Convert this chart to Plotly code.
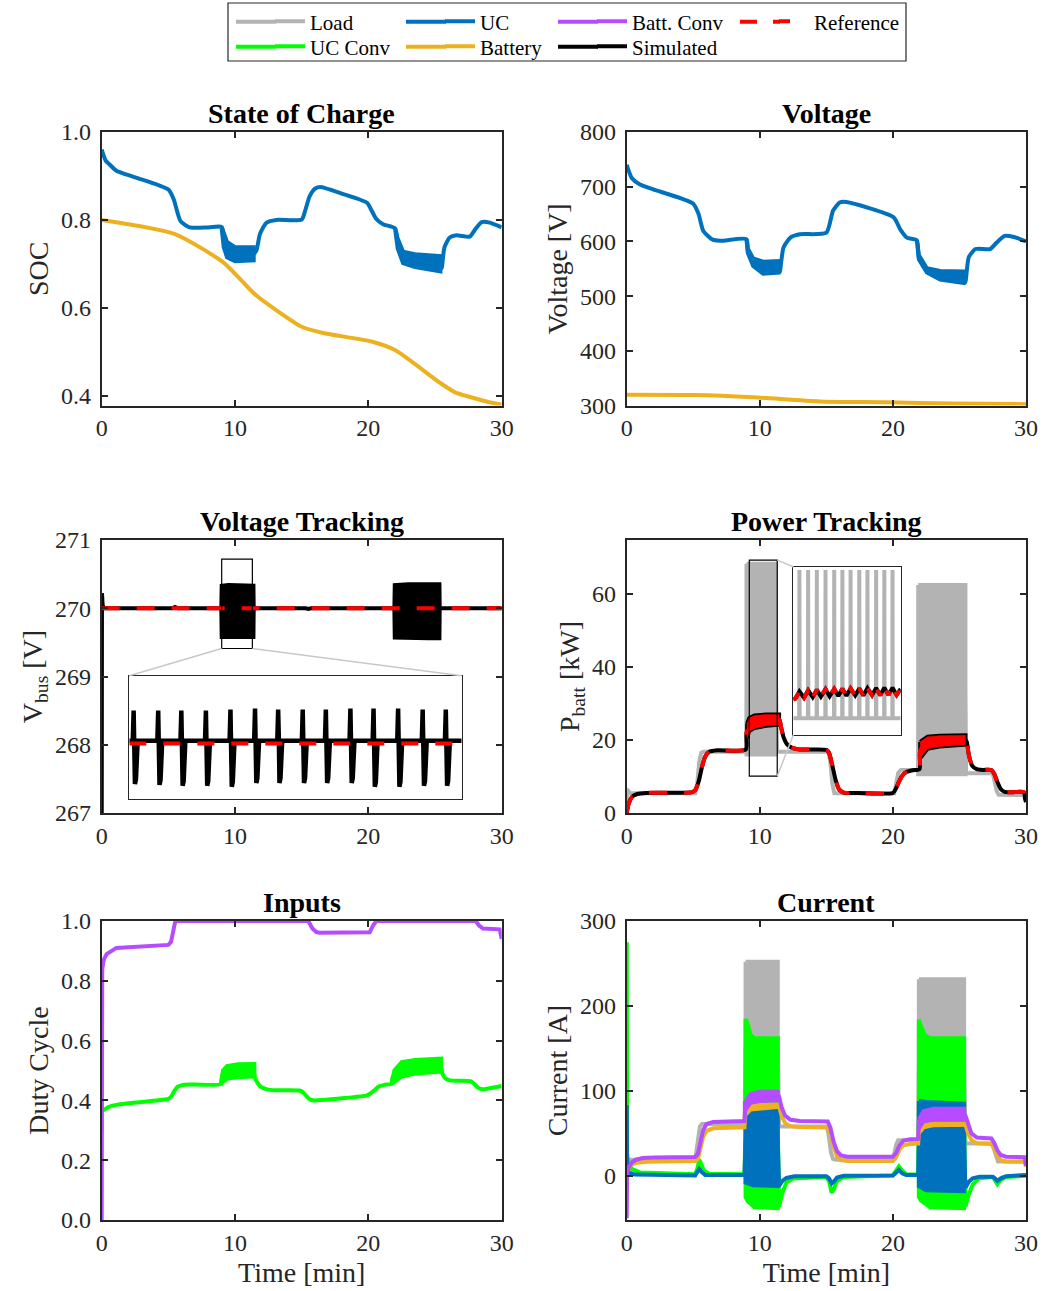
import plotly.graph_objects as go

W, H = 1042, 1291
FONT = "Liberation Serif"
AX = "#262626"
C_LOAD, C_UC, C_UCC = "#B3B3B3", "#0072BD", "#00FF00"
C_BAT, C_BATC, C_REF, C_SIM = "#EDB120", "#B54CFF", "#FF0000", "#000000"

# ---------------- State of Charge ----------------
soc_uc_t = [0, 0.3, 0.6, 1.1, 2.5, 5.0, 5.4, 5.9, 6.6, 8.0, 9.0, 9.15, 9.4, 10.0, 11.4, 11.6, 11.87, 12.37,
            13.1, 15.0, 15.25, 15.6, 16.0, 16.4, 18.0, 19.9, 20.2, 20.6, 21.1, 22.0, 22.2, 22.6, 23.5, 25.4,
            25.5, 25.7, 26.1, 26.6, 27.6, 28.0, 28.5, 29.1, 30]
soc_uc_v = [0.96, 0.935, 0.926, 0.912, 0.897, 0.869, 0.847, 0.798, 0.783, 0.783, 0.784, 0.754, 0.732, 0.722,
            0.723, 0.73, 0.768, 0.794, 0.80, 0.801, 0.82, 0.854, 0.871, 0.875, 0.86, 0.839, 0.824, 0.802,
            0.79, 0.781, 0.746, 0.715, 0.707, 0.70, 0.69, 0.737, 0.76, 0.765, 0.762, 0.778, 0.795, 0.794,
            0.783]
soc_uc_b1_t = [9.0, 9.15, 9.4, 10.0, 11.4]
soc_uc_b1_hi = [0.784, 0.77, 0.75, 0.738, 0.738]
soc_uc_b1_lo = [0.78, 0.738, 0.715, 0.706, 0.708]
soc_uc_b2_t = [22.0, 22.2, 22.6, 23.5, 25.4]
soc_uc_b2_hi = [0.781, 0.758, 0.728, 0.722, 0.718]
soc_uc_b2_lo = [0.775, 0.735, 0.702, 0.693, 0.683]
soc_bat_t = [0, 5.5, 9.1, 10.4, 11.6, 15.0, 16.6, 20.3, 22.0, 25.4, 26.5, 27.9, 29.0, 30]
soc_bat_v = [0.80, 0.768, 0.704, 0.665, 0.628, 0.557, 0.543, 0.523, 0.504, 0.429, 0.408, 0.395, 0.386, 0.380]

# ---------------- Voltage ----------------
v_uc_t = [0, 0.38, 1.0, 2.0, 5.0, 5.4, 5.76, 6.4, 7.0, 9.0, 9.1, 9.5, 10.25, 11.4, 11.5, 11.78, 12.3, 13.0,
          15.0, 15.5, 16.0, 16.5, 20.05, 20.55, 21.05, 21.8, 21.95, 22.55, 23.55, 25.3, 25.44, 25.7, 26.2,
          27.3, 27.8, 28.4, 29.1, 30]
v_uc_v = [740, 716, 704, 695, 669, 650, 619, 604, 601, 604, 583, 562, 552, 553, 544, 589, 607, 613, 616, 656,
          671, 672, 644, 622, 607, 602, 571, 547, 538, 534.5, 525, 571, 586, 586, 598, 610, 608, 600]
v_uc_b1_t = [9.0, 9.1, 9.5, 10.25, 11.4]
v_uc_b1_hi = [603, 587, 569, 563, 564]
v_uc_b1_lo = [601, 579, 555, 541, 543]
v_uc_b2_t = [21.8, 21.95, 22.55, 23.55, 25.3]
v_uc_b2_hi = [601, 575, 551, 546, 545]
v_uc_b2_lo = [599, 567, 543, 530, 524]
v_bat_t = [0, 5, 9.5, 14.5, 19.5, 24.5, 30]
v_bat_v = [319.5, 319, 315, 307.5, 306, 303.5, 302.5]

# ---------------- Voltage Tracking ----------------
vt_ref_t = [0, 30]
vt_ref_v = [270.0, 270.0]
vt_sim_t = [0, 0.02, 0.07, 0.15, 5.3, 5.5, 5.7, 15.3, 15.5, 15.7, 30]
vt_sim_v = [266.5, 270.22, 270.05, 270.0, 270.0, 270.02, 270.0, 270.0, 269.99, 270.0, 270.0]
vt_b1_t = [8.97, 9.0, 9.5, 10.5, 11.38, 11.4]
vt_b1_hi = [270.0, 270.33, 270.34, 270.34, 270.33, 270.0]
vt_b1_lo = [270.0, 269.58, 269.58, 269.58, 269.58, 270.0]
vt_b2_t = [21.95, 21.98, 23.0, 24.5, 25.33, 25.35]
vt_b2_hi = [270.0, 270.34, 270.35, 270.35, 270.35, 270.0]
vt_b2_lo = [270.0, 269.57, 269.56, 269.56, 269.56, 270.0]
vt_zoom_x = [9.0, 11.3]
vt_zoom_y = [269.41, 270.72]
vt_spike_t = [9.03, 9.20, 9.36, 9.53, 9.70, 9.87, 10.03, 10.20, 10.36, 10.53, 10.69, 10.86, 11.03, 11.19]
vt_spike_hi = [270.35, 270.35, 270.35, 270.35, 270.36, 270.37, 270.36, 270.36, 270.36, 270.37, 270.37, 270.37,
               270.36, 270.36]
vt_spike_lo = [269.57, 269.56, 269.55, 269.55, 269.54, 269.58, 269.58, 269.58, 269.58, 269.58, 269.54, 269.54,
               269.55, 269.55]
vt_inset_base = 270.03

# ---------------- Power Tracking ----------------
pb_load_t = [0, 0.02, 0.25, 5.15, 5.3, 5.45, 5.6, 5.8, 9.0, 9.05, 11.2, 11.3, 15.15, 15.3, 15.45, 15.6, 20.1,
             20.25, 20.4, 20.6, 21.9, 22.0, 25.4, 25.5, 27.5, 27.65, 27.8, 27.95, 30]
pb_load_v = [0, 6.5, 5.4, 5.4, 8, 14, 16.5, 16.8, 16.8, 40, 40, 16.8, 16.8, 14, 8, 5.4, 5.4, 8, 11, 11.8,
             11.8, 40, 40, 10.9, 10.9, 8.5, 6, 5.0, 4.9]
pb_load_b1_t = [9.0, 11.2]
pb_load_b1_hi = [68.3, 68.3]
pb_load_b1_lo = [16.0, 16.0]
pb_load_b2_t = [21.9, 25.45]
pb_load_b2_hi = [62.5, 62.5]
pb_load_b2_lo = [10.6, 10.6]
pb_t = [0, 0.15, 0.4, 0.8, 1.5, 4.9, 5.15, 5.4, 5.65, 5.9, 6.2, 6.8, 8.95, 9.05, 11.45, 11.6, 11.8, 12.05,
        12.4, 13.0, 15.0, 15.2, 15.45, 15.7, 15.95, 16.3, 17.0, 20.0, 20.2, 20.45, 20.7, 21.0, 21.5, 22.0,
        22.05, 22.6, 23.5, 25.45, 25.55, 25.7, 25.95, 26.3, 26.8, 27.4, 27.6, 27.85, 28.1, 28.4, 29.0, 29.85,
        29.92, 30]
pb_v = [0, 2.6, 4.4, 5.2, 5.5, 5.7, 6.3, 8.5, 12.5, 15.5, 16.8, 17.2, 17.4, 22.5, 25.6, 23.5, 20.6, 18.8,
        17.9, 17.4, 17.3, 16.5, 13.0, 9.0, 6.5, 5.6, 5.5, 5.5, 6.5, 8.5, 10.2, 11.2, 11.7, 12.0, 17.2, 19.2,
        19.7, 20.0, 19.5, 16.0, 13.0, 12.0, 11.8, 11.8, 10.8, 8.5, 6.6, 5.8, 5.7, 5.7, 4.0, 3.0]
pb_b1_t = [9.05, 9.2, 9.6, 10.5, 11.45]
pb_b1_hi = [24.5, 26.0, 26.7, 27.0, 27.0]
pb_b1_lo = [20.5, 22.5, 23.3, 23.9, 24.2]
pb_b2_t = [22.05, 22.6, 23.5, 25.45]
pb_b2_hi = [19.5, 20.9, 21.2, 21.3]
pb_b2_lo = [15.0, 17.6, 18.2, 18.7]
pb_zoom_x = [9.21, 11.31]
pb_zoom_y = [10.1, 69.3]
pb_spike_t = [9.33, 9.50, 9.67, 9.84, 10.01, 10.17, 10.33, 10.50, 10.66, 10.83, 10.99, 11.15]
pb_spike_top = [68.1, 68.1, 68.1, 68.1, 68.1, 68.1, 68.1, 68.1, 68.1, 68.1, 68.1, 68.1]
pb_inset_base = 16.0
pb_zig_t = [9.21, 9.25, 9.33, 9.42, 9.50, 9.59, 9.67, 9.75, 9.84, 9.92, 10.01, 10.09, 10.17, 10.25, 10.33,
            10.42, 10.50, 10.58, 10.66, 10.75, 10.83, 10.91, 10.99, 11.07, 11.15, 11.23, 11.31]
pb_zig_v = [22.6, 22.9, 25.4, 23.2, 25.8, 23.4, 26.0, 23.6, 26.2, 23.7, 26.3, 23.8, 26.4, 23.9, 26.5, 24.0,
            26.5, 24.0, 26.6, 24.1, 26.6, 24.1, 26.7, 24.2, 26.7, 24.2, 26.3]

# ---------------- Inputs ----------------
d_bat_t = [0, 0.01, 0.04, 0.15, 0.37, 1.1, 3.0, 5.0, 5.2, 5.35, 5.5, 5.6, 15.5, 15.8, 16.1, 16.35, 20.1,
           20.35, 20.6, 28.05, 28.3, 28.6, 29.85, 30]
d_bat_v = [0.0, 0.6, 0.84, 0.87, 0.889, 0.91, 0.915, 0.92, 0.93, 0.97, 0.995, 1.0, 1.0, 0.975, 0.963, 0.961,
           0.962, 0.985, 1.0, 1.0, 0.985, 0.975, 0.972, 0.94]
d_uc_t = [0, 0.01, 0.1, 0.5, 1.1, 3.0, 5.0, 5.2, 5.45, 5.7, 6.1, 7.0, 8.95, 9.05, 11.35, 11.5, 11.7, 11.95,
          12.4, 13.0, 14.85, 15.1, 15.35, 15.6, 15.9, 16.5, 19.9, 20.15, 20.45, 20.8, 21.2, 21.75, 21.85,
          25.4, 25.55, 25.75, 26.1, 27.7, 27.95, 28.25, 28.6, 29.0, 30]
d_uc_v = [0.30, 0.372, 0.367, 0.378, 0.385, 0.395, 0.405, 0.412, 0.432, 0.446, 0.452, 0.453, 0.455, 0.48,
          0.50, 0.475, 0.458, 0.445, 0.437, 0.434, 0.433, 0.427, 0.415, 0.404, 0.400, 0.401, 0.417, 0.423,
          0.434, 0.447, 0.452, 0.456, 0.48, 0.52, 0.49, 0.475, 0.467, 0.464, 0.455, 0.442, 0.437, 0.44, 0.448]
d_uc_b1_t = [8.95, 9.1, 9.4, 10.2, 11.45]
d_uc_b1_hi = [0.46, 0.50, 0.515, 0.521, 0.522]
d_uc_b1_lo = [0.455, 0.462, 0.472, 0.478, 0.48]
d_uc_b2_t = [21.75, 21.95, 22.5, 23.5, 25.45]
d_uc_b2_hi = [0.46, 0.50, 0.528, 0.535, 0.54]
d_uc_b2_lo = [0.455, 0.462, 0.48, 0.49, 0.496]

# ---------------- Current ----------------
i_load_t = [0, 5.1, 5.2, 5.35, 5.5, 5.65, 8.85, 8.93, 11.35, 11.45, 15.05, 15.2, 15.35, 15.5, 15.7, 19.95,
            20.1, 20.25, 20.4, 21.9, 21.95, 25.35, 25.45, 27.45, 27.6, 27.75, 27.9, 30]
i_load_v = [19, 19, 25, 45, 58, 61, 61, 150, 150, 58, 58, 45, 27, 20, 19, 19, 26, 37, 42, 42, 130, 130, 38,
            38, 30, 21, 17, 17]
i_load_b1_t = [8.93, 11.35]
i_load_b1_hi = [252, 252]
i_load_b1_lo = [61, 61]
i_load_b2_t = [21.95, 25.35]
i_load_b2_hi = [231.5, 231.5]
i_load_b2_lo = [42, 42]
i_ucc_t = [0, 0.005, 0.03, 0.15, 0.4, 1.0, 3.0, 5.15, 5.3, 5.45, 5.6, 5.8, 6.2, 8.85, 8.93, 11.35, 11.45,
           11.7, 12.0, 12.5, 15.0, 15.2, 15.4, 15.55, 15.8, 16.3, 20.0, 20.25, 20.45, 20.7, 21.0, 21.9,
           21.95, 25.35, 25.45, 25.7, 26.0, 26.5, 27.5, 27.7, 27.85, 28.1, 28.5, 30]
i_ucc_v = [0, 275, 25, 14, 8, 4, 2.5, 2, 8, 19, 14, 6, 2.5, 2, 60, 60, -36, -20, -8, -3, -1.5, -6, -20, -16,
           -6, -1.5, 0.5, 6, 11, 6, 2, 1.5, 60, 60, -36, -22, -10, -3, -1.5, -6, -10, -5, -1.5, 0]
i_ucc_b1_t = [8.93, 9.1, 9.3, 9.6, 11.35]
i_ucc_b1_hi = [185, 178, 166, 162, 162]
i_ucc_b1_lo = [-25, -30, -33, -37, -38]
i_ucc_b2_t = [21.95, 22.1, 22.4, 22.8, 25.35]
i_ucc_b2_hi = [184, 176, 166, 162, 162]
i_ucc_b2_lo = [-25, -29, -33, -37, -38]
i_uc_t = [0, 0.005, 0.03, 0.15, 0.6, 5.15, 5.3, 5.45, 5.6, 5.9, 8.85, 8.93, 11.35, 11.45, 11.7, 12.0, 12.6,
          15.0, 15.2, 15.4, 15.55, 15.8, 16.3, 20.0, 20.25, 20.45, 20.7, 21.0, 21.9, 21.95, 25.35, 25.45,
          25.7, 26.0, 26.5, 27.5, 27.7, 27.85, 28.1, 28.5, 30]
i_uc_v = [0, 83, 12, 4, 1.5, 0.5, 4, 8, 5, 1, 1, 40, 40, -12, -6, -2.5, -0.5, -0.5, -3, -9, -7, -2, 0, 0.5,
          4, 7, 3, 1, 1, 40, 40, -14, -7, -3, -1, -1, -3.5, -6, -3, -0.5, 1]
i_uc_b1_t = [8.93, 9.5, 10.5, 11.35]
i_uc_b1_hi = [88, 84, 80, 78]
i_uc_b1_lo = [-8, -11, -12, -12]
i_uc_b2_t = [21.95, 22.5, 25.35]
i_uc_b2_hi = [88, 87, 85]
i_uc_b2_lo = [-12, -17, -18]
i_bat_t = [0, 0.02, 0.15, 0.4, 0.8, 1.5, 5.15, 5.35, 5.55, 5.75, 6.0, 6.5, 8.85, 8.93, 11.35, 11.45, 11.65,
           11.9, 12.3, 13.0, 15.1, 15.3, 15.55, 15.8, 16.1, 16.6, 20.0, 20.25, 20.5, 20.8, 21.3, 21.9, 21.95,
           22.3, 23.0, 25.35, 25.45, 25.65, 25.9, 26.3, 27.4, 27.6, 27.85, 28.1, 28.5, 29.9, 30]
i_bat_v = [0, 5, 10, 13.5, 15.5, 16.5, 17.5, 20, 33, 46, 53, 56, 57, 78, 83, 82, 70, 62, 58.5, 57.5, 57, 50,
           34, 23, 18.5, 17.5, 17.5, 22, 31, 36, 37.5, 38, 52.5, 59, 60.7, 61, 60, 50, 42, 38.5, 37.5, 33, 24,
           18.5, 17, 16.5, 11]
i_bat_b1_t = [8.93, 9.3, 10.5, 11.35]
i_bat_b1_hi = [80, 83, 84, 84]
i_bat_b1_lo = [72, 78, 80, 81]
i_bat_b2_t = [21.95, 22.3, 23.0, 25.35]
i_bat_b2_hi = [55, 61, 62, 62]
i_bat_b2_lo = [50, 57, 59.5, 60]
i_batc_t = [0, 0.01, 0.03, 0.15, 0.4, 0.7, 1.2, 2.0, 5.15, 5.35, 5.55, 5.75, 6.0, 6.5, 8.85, 8.93, 9.3, 11.35,
            11.45, 11.65, 11.9, 12.3, 13.0, 15.1, 15.3, 15.55, 15.8, 16.1, 16.6, 20.0, 20.25, 20.5, 20.8,
            21.3, 21.9, 21.95, 22.3, 23.0, 25.35, 25.45, 25.65, 25.9, 26.3, 27.4, 27.6, 27.85, 28.1, 28.5,
            29.9, 30]
i_batc_v = [-50, -20, 3, 10, 16, 19, 21, 21.7, 22.3, 26, 40, 54, 61, 63.5, 64.5, 85, 91, 94, 93, 80, 71, 66,
            64.5, 64, 57, 40, 29, 24, 22.5, 22.5, 27, 36, 41.5, 43, 43.5, 61, 70, 72.5, 72.5, 71, 60, 50, 45,
            44, 39, 30, 24.5, 22.5, 22, 12]
i_batc_b1_t = [8.93, 9.3, 10.0, 11.35]
i_batc_b1_hi = [88, 96, 99, 99]
i_batc_b1_lo = [78, 86, 88, 89]
i_batc_b2_t = [21.95, 22.3, 23.0, 25.35]
i_batc_b2_hi = [66, 76, 79, 79]
i_batc_b2_lo = [56, 64, 66, 66]

legend_names = ["Load", "UC Conv", "UC", "Battery", "Batt. Conv", "Simulated", "Reference"]

# ---------------- layout geometry (pixels) ----------------
COLS = [(101.7, 501.7), (626.7, 1026.0)]
ROWS = [(132, 405.5), (540, 813), (921, 1220)]


def xdom(c):
    return [c[0] / W, c[1] / W]


def ydom(r):
    return [1 - r[1] / H, 1 - r[0] / H]


fig = go.Figure()


def line(t, v, color, n, width=4, dash=None, shape="spline"):
    fig.add_trace(go.Scatter(x=t, y=v, xaxis="x" + n, yaxis="y" + n, mode="lines",
                             line=dict(color=color, width=width, dash=dash, shape=shape, smoothing=0.6),
                             showlegend=False, hoverinfo="skip"))


def band(t, hi, lo, color, n, width=4, fill=None):
    xs = list(t) + list(t)[::-1] + [t[0]]
    ys = list(hi) + list(lo)[::-1] + [hi[0]]
    fig.add_trace(go.Scatter(x=xs, y=ys, xaxis="x" + n, yaxis="y" + n, mode="lines", fill="toself",
                             fillcolor=fill or color, line=dict(color=color, width=width),
                             showlegend=False, hoverinfo="skip"))


# SOC (1)
line(soc_uc_t, soc_uc_v, C_UC, "")
band(soc_uc_b1_t, soc_uc_b1_hi, soc_uc_b1_lo, C_UC, "")
band(soc_uc_b2_t, soc_uc_b2_hi, soc_uc_b2_lo, C_UC, "")
line(soc_bat_t, soc_bat_v, C_BAT, "")

# Voltage (2)
line(v_uc_t, v_uc_v, C_UC, "2")
band(v_uc_b1_t, v_uc_b1_hi, v_uc_b1_lo, C_UC, "2")
band(v_uc_b2_t, v_uc_b2_hi, v_uc_b2_lo, C_UC, "2")
line(v_bat_t, v_bat_v, C_BAT, "2")

# Voltage tracking (3)
line(vt_sim_t, vt_sim_v, C_SIM, "3", shape="linear")
band(vt_b1_t, vt_b1_hi, vt_b1_lo, C_SIM, "3")
band(vt_b2_t, vt_b2_hi, vt_b2_lo, C_SIM, "3")
line(vt_ref_t, vt_ref_v, C_REF, "3", dash="18px,17px", shape="linear")

# Power tracking (4)
line(pb_load_t, pb_load_v, C_LOAD, "4", shape="linear")
band(pb_load_b1_t, pb_load_b1_hi, pb_load_b1_lo, C_LOAD, "4")
band(pb_load_b2_t, pb_load_b2_hi, pb_load_b2_lo, C_LOAD, "4")
line(pb_t, pb_v, C_SIM, "4")
band(pb_b1_t, pb_b1_hi, pb_b1_lo, C_SIM, "4")
band(pb_b2_t, pb_b2_hi, pb_b2_lo, C_SIM, "4")
line(pb_t, pb_v, C_REF, "4", dash="18px,17px")
band(pb_b1_t, pb_b1_hi, pb_b1_lo, C_REF, "4", width=0.5)
band(pb_b2_t, pb_b2_hi, pb_b2_lo, C_REF, "4", width=0.5)

# Inputs (5)
line(d_uc_t, d_uc_v, C_UCC, "5")
band(d_uc_b1_t, d_uc_b1_hi, d_uc_b1_lo, C_UCC, "5")
band(d_uc_b2_t, d_uc_b2_hi, d_uc_b2_lo, C_UCC, "5")
line(d_bat_t, d_bat_v, C_BATC, "5", shape="linear")

# Current (6)
line(i_load_t, i_load_v, C_LOAD, "6", shape="linear")
band(i_load_b1_t, i_load_b1_hi, i_load_b1_lo, C_LOAD, "6")
band(i_load_b2_t, i_load_b2_hi, i_load_b2_lo, C_LOAD, "6")
line(i_ucc_t, i_ucc_v, C_UCC, "6", shape="linear")
band(i_ucc_b1_t, i_ucc_b1_hi, i_ucc_b1_lo, C_UCC, "6")
band(i_ucc_b2_t, i_ucc_b2_hi, i_ucc_b2_lo, C_UCC, "6")
line(i_uc_t, i_uc_v, C_UC, "6", shape="linear")
band(i_uc_b1_t, i_uc_b1_hi, i_uc_b1_lo, C_UC, "6")
band(i_uc_b2_t, i_uc_b2_hi, i_uc_b2_lo, C_UC, "6")
line(i_bat_t, i_bat_v, C_BAT, "6", shape="linear")
band(i_bat_b1_t, i_bat_b1_hi, i_bat_b1_lo, C_BAT, "6")
band(i_bat_b2_t, i_bat_b2_hi, i_bat_b2_lo, C_BAT, "6")
line(i_batc_t, i_batc_v, C_BATC, "6", shape="linear")
band(i_batc_b1_t, i_batc_b1_hi, i_batc_b1_lo, C_BATC, "6")
band(i_batc_b2_t, i_batc_b2_hi, i_batc_b2_lo, C_BATC, "6")

# Voltage tracking inset (7)
vx, vy = [vt_zoom_x[0]], [vt_inset_base]
for ts, hi, lo in zip(vt_spike_t, vt_spike_hi, vt_spike_lo):
    vx += [ts - 0.006, ts, ts + 0.005, ts + 0.009, ts + 0.016, ts + 0.028]
    vy += [vt_inset_base, hi, vt_inset_base, lo, lo + 0.05, vt_inset_base]
vx.append(vt_zoom_x[1])
vy.append(vt_inset_base)
line(vx, vy, C_SIM, "7", width=4.5, shape="linear")
line(vt_zoom_x, [vt_ref_v[0], vt_ref_v[0]], C_REF, "7", dash="17px,17px", shape="linear")

# Power tracking inset (8)
lx, ly = [pb_zoom_x[0]], [pb_inset_base]
for ts, top in zip(pb_spike_t, pb_spike_top):
    lx += [ts - 0.004, ts, ts + 0.004]
    ly += [pb_inset_base, top, pb_inset_base]
lx.append(pb_zoom_x[1])
ly.append(pb_inset_base)
line(lx, ly, C_LOAD, "8", shape="linear")
line(pb_zig_t, pb_zig_v, C_SIM, "8", shape="linear")
line(pb_zig_t, pb_zig_v, C_REF, "8", dash="9px,9px", shape="linear")

# ---------------- legend (7 separate single-entry legends) ----------------
leg_colors = [C_LOAD, C_UCC, C_UC, C_BAT, C_BATC, C_SIM, C_REF]
leg_pos = [(311, 21.7), (311, 46.7), (481, 21.7), (481, 46.7), (633, 21.7), (633, 46.7), (815, 21.7)]
legend_layout = {}
shapes = []
for i, (name, col, (tx, ty)) in enumerate(zip(legend_names, leg_colors, leg_pos)):
    key = "legend" if i == 0 else "legend%d" % (i + 1)
    is_ref = name == "Reference"
    fig.add_trace(go.Scatter(x=[None], y=[None], mode="lines", name=name, legend=key,
                             line=dict(color=col, width=4, dash="11px,30px" if is_ref else None)))
    legend_layout[key] = dict(x=(tx - 41) / W, y=1 - ty / H, xanchor="left", yanchor="middle",
                              bgcolor="rgba(0,0,0,0)", borderwidth=0,
                              font=dict(family=FONT, size=21, color="#000"))
    # lengthen the legend sample to the reference's long line sample
    shapes.append(dict(type="line", xref="paper", yref="paper", x0=(tx - 75) / W, x1=(tx - 35) / W,
                       y0=1 - ty / H, y1=1 - ty / H,
                       line=dict(color=col, width=4, dash="17px,16px" if is_ref else None)))

# ---------------- axes ----------------
tickfont = dict(family=FONT, size=24, color=AX)
titlefont = dict(family=FONT, size=28, color=AX)


def axis(**kw):
    d = dict(showline=True, linecolor=AX, linewidth=1.8, mirror="ticks", ticks="inside", ticklen=6,
             tickwidth=1.5, tickcolor=AX, showgrid=False, zeroline=False, tickfont=tickfont,
             ticklabelstandoff=4, automargin=False)
    d.update(kw)
    return d


xt = dict(range=[0, 30], tickvals=[0, 10, 20, 30], ticklabelstandoff=0)
ylabels = ["SOC", "Voltage [V]", "V<sub>bus</sub> [V]", "P<sub>batt</sub> [kW]", "Duty Cycle", "Current [A]"]
yspecs = [dict(range=[0.378, 1.0], tickvals=[0.4, 0.6, 0.8, 1.0], tickformat=".1f"),
          dict(range=[300, 800], tickvals=[300, 400, 500, 600, 700, 800]),
          dict(range=[267, 271], tickvals=[267, 268, 269, 270, 271]),
          dict(range=[0, 74.8], tickvals=[0, 20, 40, 60]),
          dict(range=[0, 1], tickvals=[0, 0.2, 0.4, 0.6, 0.8, 1.0], tickformat=".1f"),
          dict(range=[-52, 300], tickvals=[0, 100, 200, 300])]
titles = ["State of Charge", "Voltage", "Voltage Tracking", "Power Tracking", "Inputs", "Current"]

layout = dict(template="none", width=W, height=H, margin=dict(l=0, r=0, t=0, b=0, pad=0, autoexpand=False),
              paper_bgcolor="white", plot_bgcolor="white", font=dict(family=FONT, color=AX))
annotations = []
for k in range(6):
    r, c = divmod(k, 2)
    n = "" if k == 0 else str(k + 1)
    xa = axis(domain=xdom(COLS[c]), anchor="y" + n, **xt)
    if r == 2:
        xa["title"] = dict(text="Time [min]", font=titlefont, standoff=8)
    ya = axis(domain=ydom(ROWS[r]), anchor="x" + n, **yspecs[k])
    ya["title"] = dict(text=ylabels[k], font=titlefont, standoff=4)
    layout["xaxis" + n] = xa
    layout["yaxis" + n] = ya
    annotations.append(dict(text="<b>%s</b>" % titles[k], x=(COLS[c][0] + COLS[c][1]) / 2 / W,
                            y=1 - (ROWS[r][0] - 1) / H, xref="paper", yref="paper", xanchor="center",
                            yanchor="bottom", showarrow=False, font=dict(family=FONT, size=28, color="#000")))

# inset axes
VT_IN = ((129.3, 461.7), (675.7, 799))
PB_IN = ((793.3, 900.7), (566.7, 735))
for n, (cx, ry), xr, yr in (("7", VT_IN, vt_zoom_x, vt_zoom_y), ("8", PB_IN, pb_zoom_x, pb_zoom_y)):
    inset = dict(showline=True, linecolor=AX, linewidth=1.3, mirror=True, ticks="", showticklabels=False,
                 showgrid=False, zeroline=False, automargin=False)
    layout["xaxis" + n] = dict(inset, domain=xdom(cx), anchor="y" + n, range=xr)
    layout["yaxis" + n] = dict(inset, domain=ydom(ry), anchor="x" + n, range=yr)


def to_paper(t, v, c, r, yrange):
    x0, x1 = COLS[c]
    y0, y1 = ROWS[r]
    px = x0 + (t - 0) / 30 * (x1 - x0)
    py = y1 - (v - yrange[0]) / (yrange[1] - yrange[0]) * (y1 - y0)
    return px / W, 1 - py / H


shapes.append(dict(type="rect", xref="paper", yref="paper", x0=228 / W, x1=906 / W, y0=1 - 61 / H,
                   y1=1 - 3 / H, line=dict(color=AX, width=1.2)))
shapes.append(dict(type="rect", xref="x3", yref="y3", x0=vt_zoom_x[0], x1=vt_zoom_x[1], y0=vt_zoom_y[0],
                   y1=vt_zoom_y[1], line=dict(color="#000", width=1.2)))
shapes.append(dict(type="rect", xref="x4", yref="y4", x0=pb_zoom_x[0], x1=pb_zoom_x[1], y0=pb_zoom_y[0],
                   y1=pb_zoom_y[1], line=dict(color="#000", width=1.2)))
gray = dict(color="#C8C8C8", width=1.5)
a = to_paper(vt_zoom_x[0], vt_zoom_y[0], 0, 1, [267, 271])
b = to_paper(vt_zoom_x[1], vt_zoom_y[0], 0, 1, [267, 271])
shapes.append(dict(type="line", xref="paper", yref="paper", x0=a[0], y0=a[1], x1=VT_IN[0][0] / W,
                   y1=1 - VT_IN[1][0] / H, line=gray))
shapes.append(dict(type="line", xref="paper", yref="paper", x0=b[0], y0=b[1], x1=VT_IN[0][1] / W,
                   y1=1 - VT_IN[1][0] / H, line=gray))
a = to_paper(pb_zoom_x[1], pb_zoom_y[1], 1, 1, [0, 74.8])
b = to_paper(pb_zoom_x[1], pb_zoom_y[0], 1, 1, [0, 74.8])
shapes.append(dict(type="line", xref="paper", yref="paper", x0=a[0], y0=a[1], x1=PB_IN[0][0] / W,
                   y1=1 - PB_IN[1][0] / H, line=gray))
shapes.append(dict(type="line", xref="paper", yref="paper", x0=b[0], y0=b[1], x1=PB_IN[0][0] / W,
                   y1=1 - PB_IN[1][1] / H, line=gray))

layout.update(legend_layout)
layout["annotations"] = annotations
layout["shapes"] = shapes
fig.update_layout(**layout)
fig.write_html("out.html")
